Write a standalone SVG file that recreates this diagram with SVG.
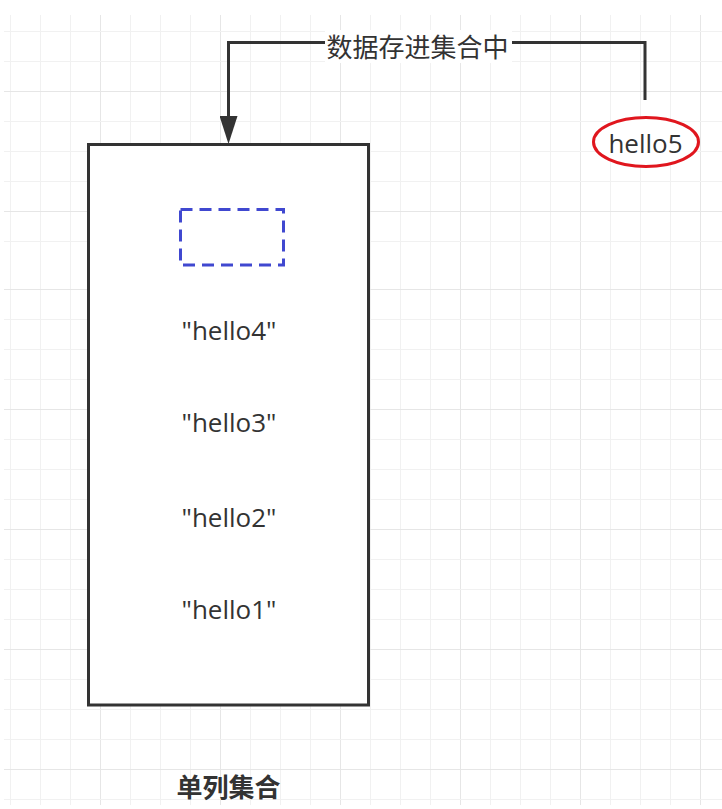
<svg xmlns="http://www.w3.org/2000/svg" width="722" height="809" viewBox="0 0 722 809">
<style>
.minor{stroke:#f1f1f1;stroke-width:1;fill:none}
.major{stroke:#e6e6e6;stroke-width:1;fill:none}
.txt{font-family:"Open Sans","Noto Sans CJK SC",sans-serif;font-size:26px;fill:#333;text-anchor:middle}
.cjk{font-family:"Noto Sans CJK SC",sans-serif;font-size:26px;fill:#333;text-anchor:middle}
.edge{stroke:#333;stroke-width:3;fill:none}
</style>
<defs>
<marker id="arrow" markerUnits="userSpaceOnUse" markerWidth="28" markerHeight="18" viewBox="0 0 28 18" refX="14" refY="9" orient="auto">
<path d="M0,0 L28,9 L0,18 z" fill="#333"/>
</marker>
</defs>
<rect width="722" height="809" fill="#fff"/>
<g id="grid">
<path class="minor" d="M10.5,15V805M40.5,15V805M70.5,15V805M130.5,15V805M160.5,15V805M190.5,15V805M250.5,15V805M280.5,15V805M310.5,15V805M370.5,15V805M400.5,15V805M430.5,15V805M490.5,15V805M520.5,15V805M550.5,15V805M610.5,15V805M640.5,15V805M670.5,15V805"/>
<path class="major" d="M100.5,15V805M220.5,15V805M340.5,15V805M460.5,15V805M580.5,15V805M700.5,15V805"/>
<path class="minor" d="M4,31.5H722M4,61.5H722M4,121.5H722M4,151.5H722M4,181.5H722M4,241.5H722M4,319.5H722M4,349.5H722M4,379.5H722M4,439.5H722M4,469.5H722M4,499.5H722M4,559.5H722M4,589.5H722M4,619.5H722M4,679.5H722M4,709.5H722M4,739.5H722M4,799.5H722"/>
<path class="major" d="M4,91.5H722M4,211.5H722M4,289.5H722M4,409.5H722M4,529.5H722M4,649.5H722M4,769.5H722"/>
</g>
<g id="connectors">
<path class="edge" d="M645,100 V42.5 H228.5 V130" marker-end="url(#arrow)"/>
<rect x="325" y="30" width="187" height="33" fill="#fff"/>
<text class="cjk" x="417.5" y="57">数据存进集合中</text>
</g>
<g id="collection">
<rect x="88.5" y="144.5" width="280" height="560.5" fill="#fff" stroke="#333" stroke-width="3"/>
</g>
<g id="slot">
<rect x="180.5" y="209.5" width="103" height="55.5" fill="none" stroke="#4048d0" stroke-width="3" stroke-dasharray="12 7"/>
</g>
<g id="hello4"><text class="txt" x="229" y="340">"hello4"</text></g>
<g id="hello3"><text class="txt" x="229" y="432">"hello3"</text></g>
<g id="hello2"><text class="txt" x="229" y="527">"hello2"</text></g>
<g id="hello1"><text class="txt" x="229" y="619">"hello1"</text></g>
<g id="hello5">
<ellipse cx="646" cy="142" rx="52.5" ry="24.5" fill="#fff" stroke="#e0161e" stroke-width="3"/>
<text class="txt" x="645.5" y="153">hello5</text>
</g>
<g id="title"><text class="cjk" x="228.5" y="797" font-weight="bold">单列集合</text></g>
</svg>
